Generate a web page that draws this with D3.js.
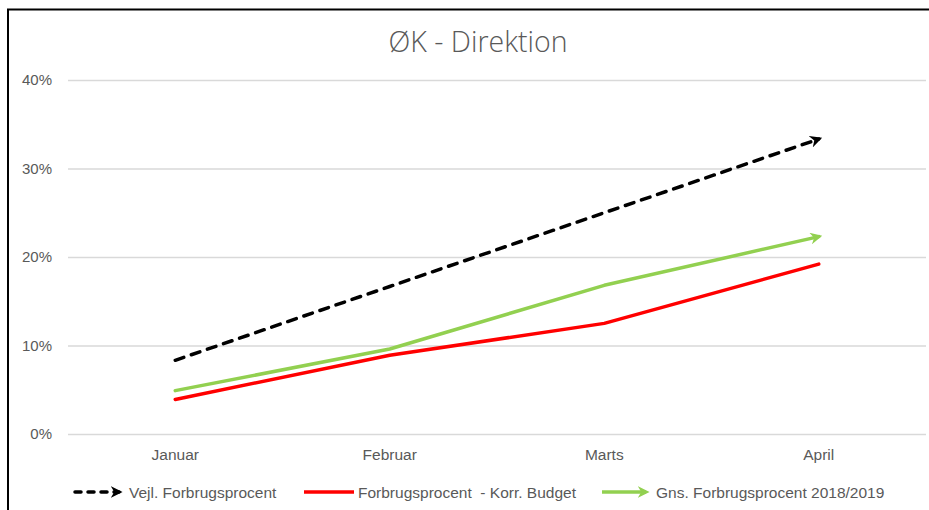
<!DOCTYPE html>
<html>
<head>
<meta charset="utf-8">
<script src="https://cdn.jsdelivr.net/npm/d3@7"></script>
<style>
  html, body { margin: 0; padding: 0; background: #fff; }
  svg { display: block; font-family: 'Liberation Sans', Arial, sans-serif; }
</style>
</head>
<body>
<figure id="chart" style="margin:0"></figure>
<script>
const months = ['Januar', 'Februar', 'Marts', 'April'];
const vejlValues = [0.0833, 0.1667, 0.25, 0.3333];
const korrValues = [0.039, 0.089, 0.125, 0.192];
const gnsValues = [0.049, 0.096, 0.168, 0.223];
const yTicks = [0, 0.1, 0.2, 0.3, 0.4];
const seriesNames = ['Vejl. Forbrugsprocent', 'Forbrugsprocent  - Korr. Budget', 'Gns. Forbrugsprocent 2018/2019'];

const width = 929;
const height = 510;
const margin = {top: 80, right: 3, bottom: 76, left: 68};

const series = [
  {name: seriesNames[0], values: vejlValues, color: '#000000', dash: '9,8', arrow: 'arrow-black'},
  {name: seriesNames[1], values: korrValues, color: '#ff0000', dash: null, arrow: null},
  {name: seriesNames[2], values: gnsValues, color: '#92d050', dash: null, arrow: 'arrow-green'}
];

const svg = d3.select('figure#chart')
  .append('svg')
  .attr('width', width)
  .attr('height', height);

const defs = svg.append('defs');
[['arrow-black', '#000000'], ['arrow-green', '#92d050']].forEach(([id, col]) => {
  defs.append('marker')
    .attr('id', id)
    .attr('viewBox', '0 0 10 10')
    .attr('refX', 7)
    .attr('refY', 5)
    .attr('markerWidth', 3.4)
    .attr('markerHeight', 3.4)
    .attr('markerUnits', 'strokeWidth')
    .attr('orient', 'auto')
    .append('path')
    .attr('d', 'M0,0 L10,5 L0,10 L3,5 Z')
    .attr('fill', col);
});

// chart frame (cut off on right and bottom)
svg.append('rect')
  .attr('x', 8)
  .attr('y', 9.5)
  .attr('width', width + 20)
  .attr('height', height + 20)
  .attr('fill', 'none')
  .attr('stroke', '#000')
  .attr('stroke-width', 2);

svg.append('text')
  .attr('x', 478)
  .attr('y', 52)
  .attr('text-anchor', 'middle')
  .attr('font-family', "'Open Sans', sans-serif")
  .attr('font-weight', 300)
  .attr('font-size', 28.5)
  .attr('fill', '#595959')
  .text('ØK - Direktion');

const x = d3.scaleBand()
  .domain(months)
  .range([margin.left, width - margin.right]);

const y = d3.scaleLinear()
  .domain([0, 0.4])
  .range([height - margin.bottom, margin.top]);

const yAxis = svg.append('g')
  .attr('transform', `translate(${margin.left},0)`)
  .call(d3.axisLeft(y)
    .tickValues(yTicks)
    .tickFormat(d3.format('.0%'))
    .tickSize(-(width - margin.left - margin.right))
    .tickPadding(16));
yAxis.select('.domain').remove();
yAxis.selectAll('.tick line').attr('stroke', '#d9d9d9').attr('stroke-width', 1.3);
yAxis.selectAll('.tick text').attr('fill', '#595959').attr('font-size', 15);

const xAxis = svg.append('g')
  .attr('transform', `translate(0,${height - margin.bottom})`)
  .call(d3.axisBottom(x).tickSize(0).tickPadding(15));
xAxis.select('.domain').remove();
xAxis.selectAll('.tick text').attr('fill', '#595959').attr('font-size', 15.5);

const line = d3.line()
  .x((d, i) => x(months[i]) + x.bandwidth() / 2)
  .y(d => y(d));

svg.append('g')
  .selectAll('path')
  .data(series)
  .enter().append('path')
  .attr('d', s => line(s.values))
  .attr('fill', 'none')
  .attr('stroke', s => s.color)
  .attr('stroke-width', 3.5)
  .attr('stroke-linecap', 'round')
  .attr('stroke-linejoin', 'round')
  .attr('stroke-dasharray', s => s.dash)
  .attr('marker-end', s => s.arrow ? `url(#${s.arrow})` : null);

// legend
const legendX = [73, 302, 600];
const legend = svg.append('g')
  .selectAll('.legend-item')
  .data(series)
  .enter().append('g')
  .attr('class', 'legend-item')
  .attr('transform', (s, i) => `translate(${legendX[i]},492)`);

legend.append('line')
  .attr('x1', 2)
  .attr('x2', s => s.arrow ? 46 : 52)
  .attr('y1', 0)
  .attr('y2', 0)
  .attr('stroke', s => s.color)
  .attr('stroke-width', 3.5)
  .attr('stroke-linecap', s => s.dash ? 'round' : 'butt')
  .attr('stroke-dasharray', s => s.dash ? '6,7' : null)
  .attr('marker-end', s => s.arrow ? `url(#${s.arrow})` : null);

legend.append('text')
  .attr('x', 56)
  .attr('y', 5.5)
  .attr('fill', '#595959')
  .attr('font-size', 15.5)
  .style('white-space', 'pre')
  .text(s => s.name);
</script>
</body>
</html>
